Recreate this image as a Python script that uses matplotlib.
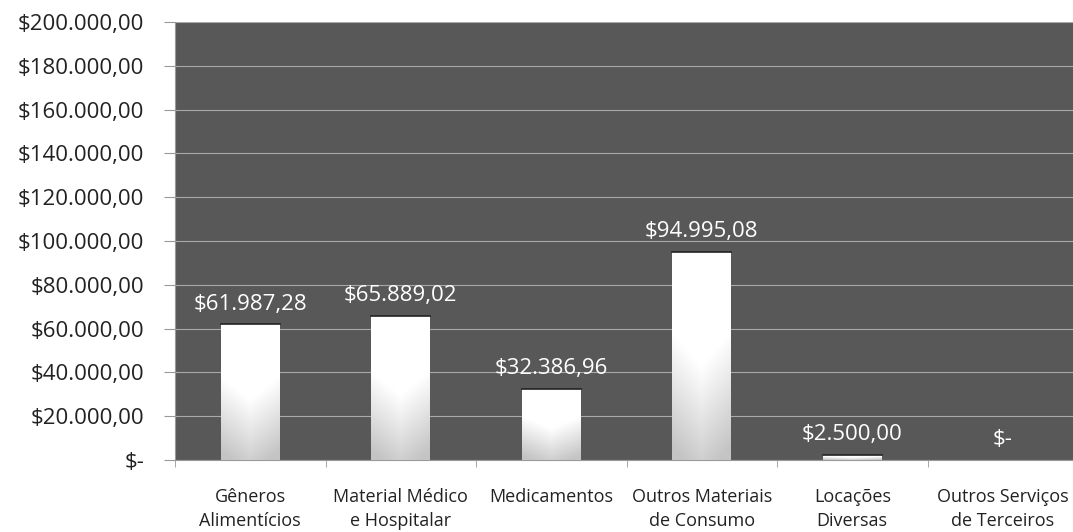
import numpy as np
import matplotlib.pyplot as plt
from matplotlib.colors import LinearSegmentedColormap

categories = ["Gêneros\nAlimentícios", "Material Médico\ne Hospitalar", "Medicamentos",
              "Outros Materiais\nde Consumo", "Locações\nDiversas", "Outros Serviços\nde Terceiros"]
values = [61987.28, 65889.02, 32386.96, 94995.08, 2500.00, 0.0]
y_ticks = [0, 20000, 40000, 60000, 80000, 100000, 120000, 140000, 160000, 180000, 200000]


def brl(v):
    if v == 0:
        return "$-"
    s = f"{v:,.2f}"
    return "$" + s.replace(",", "X").replace(".", ",").replace("X", ".")


plt.rcParams['font.family'] = ['Open Sans', 'DejaVu Sans']

fig = plt.figure(figsize=(10.73, 5.32), dpi=100)
fig.patch.set_facecolor("white")
ax = fig.add_axes([175 / 1073, 1 - 460 / 532, 903 / 1073, 438 / 532])
ax.set_facecolor("#585858")

x = np.arange(len(categories))
bars = ax.bar(x, values, width=0.39, color="white", zorder=3)

# vertical gradient inside each bar
cmap = LinearSegmentedColormap.from_list("barfade", ["#c4c4c4", "#ffffff", "#ffffff"])
grad = np.linspace(0, 1, 256).reshape(-1, 1)
hgrad = np.abs(np.linspace(-1, 1, 64)).reshape(1, -1)
for b in bars:
    if b.get_height() <= 0:
        continue
    x0, w, h = b.get_x(), b.get_width(), b.get_height()
    img = np.clip(grad * 0.9 + 0.1 - hgrad * 0.15, 0, 1)
    im = ax.imshow(img, extent=[x0, x0 + w, 0, h], origin="lower", aspect="auto",
                   cmap=cmap, vmin=0, vmax=1, zorder=4)
    im.set_clip_path(b)
    ax.plot([x0, x0 + w], [h, h], color="#222222", lw=1.2, zorder=5)

for b, v in zip(bars, values):
    ax.annotate(brl(v), (b.get_x() + b.get_width() / 2, b.get_height()),
                xytext=(0, 7), textcoords="offset points", ha="center", va="bottom",
                color="white", fontsize=16, zorder=6)

ax.set_xlim(-0.5, len(categories) - 0.5)
ax.set_ylim(0, 200000)
ax.set_yticks(y_ticks)
ax.set_yticklabels([brl(t) for t in y_ticks], fontsize=16, color="#222222")
ax.yaxis.grid(True, color="#a8a8a8", lw=0.8, zorder=1)
ax.set_axisbelow(True)

ax.set_xticks(x)
ax.set_xticklabels(categories, fontsize=13, color="#222222", linespacing=1.45)
ax.tick_params(axis="x", length=0, pad=20)
ax.set_xticks(np.arange(len(categories) + 1) - 0.5, minor=True)
ax.tick_params(axis="x", which="minor", length=5, color="#999999", direction="out")
ax.tick_params(axis="y", length=8, color="#999999", pad=14)

for side in ["top", "right"]:
    ax.spines[side].set_visible(False)
ax.spines["left"].set_color("#999999")
ax.spines["bottom"].set_color("#999999")

fig.savefig("out.png", dpi=100, facecolor="white")
